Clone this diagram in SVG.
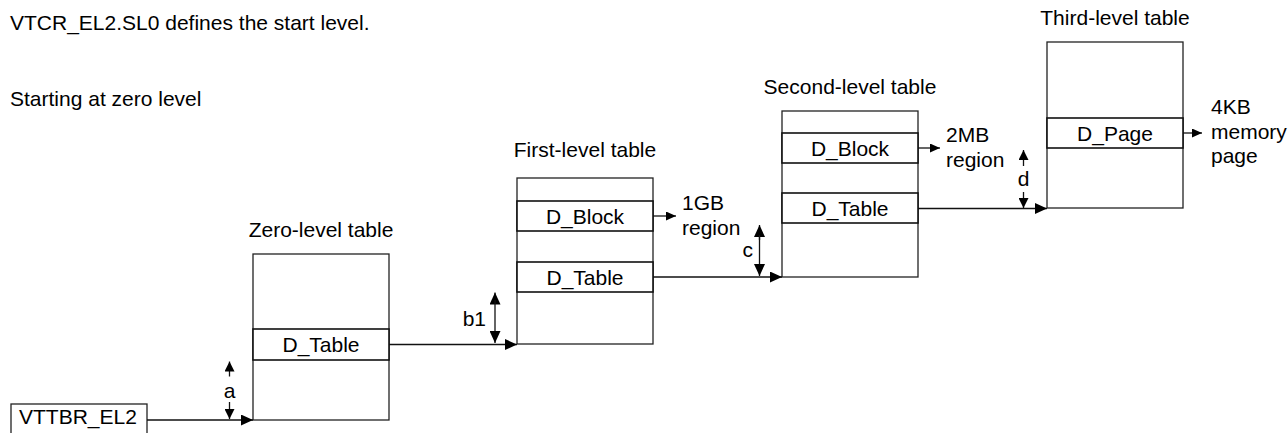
<svg xmlns="http://www.w3.org/2000/svg" width="1288" height="433" viewBox="0 0 1288 433">
<style>
text{font-family:"Liberation Sans",Arial,sans-serif;font-size:21px;fill:#000}
.m{text-anchor:middle}
.e{text-anchor:end}
.box{fill:#fff;stroke:#222;stroke-width:1.3}
.row{fill:#fff;stroke:#111;stroke-width:1.6}
.ln{fill:none;stroke:#111;stroke-width:1.3}
</style>
<defs>
<marker id="ah" viewBox="0 0 12 11" refX="12" refY="5.5" markerWidth="12" markerHeight="11" markerUnits="userSpaceOnUse" orient="auto"><path d="M0,0 L12,5.5 L0,11 z" fill="#000"/></marker>
<marker id="ahs" viewBox="0 0 10 9" refX="10" refY="4.5" markerWidth="10" markerHeight="9" markerUnits="userSpaceOnUse" orient="auto"><path d="M0,0 L10,4.5 L0,9 z" fill="#000"/></marker>
<marker id="ahd" viewBox="0 0 10 10" refX="10" refY="5" markerWidth="10" markerHeight="10" markerUnits="userSpaceOnUse" orient="auto"><path d="M0,0 L10,5 L0,10 z" fill="#000"/></marker>
</defs>
<text x="10" y="30">VTCR_EL2.SL0 defines the start level.</text>
<text x="10" y="106">Starting at zero level</text>
<g id="vttbr">
<rect class="box" x="11" y="404" width="136" height="34"/>
<text x="19" y="424">VTTBR_EL2</text>
</g>
<g id="zero-level">
<text class="m" x="321" y="237">Zero-level table</text>
<rect class="box" x="253" y="254" width="136" height="166"/>
<rect class="row" x="253" y="329" width="136" height="31"/>
<text class="m" x="321" y="352">D_Table</text>
</g>
<g id="first-level">
<text class="m" x="585" y="157">First-level table</text>
<rect class="box" x="517" y="178" width="136" height="166"/>
<rect class="row" x="517" y="201" width="136" height="30"/>
<rect class="row" x="517" y="262" width="136" height="30"/>
<text class="m" x="585" y="223.5">D_Block</text>
<text class="m" x="585" y="284.5">D_Table</text>
<text x="682" y="210">1GB</text>
<text x="682" y="235">region</text>
</g>
<g id="second-level">
<text class="m" x="850" y="94">Second-level table</text>
<rect class="box" x="782" y="111" width="136" height="166"/>
<rect class="row" x="782" y="133" width="136" height="30"/>
<rect class="row" x="782" y="193" width="136" height="30"/>
<text class="m" x="850" y="155.5">D_Block</text>
<text class="m" x="850" y="215.5">D_Table</text>
<text x="946" y="142">2MB</text>
<text x="946" y="167">region</text>
</g>
<g id="third-level">
<text class="m" x="1115" y="25">Third-level table</text>
<rect class="box" x="1047" y="42" width="136" height="166"/>
<rect class="row" x="1047" y="118" width="136" height="30"/>
<text class="m" x="1115" y="140.5">D_Page</text>
<text x="1211" y="114">4KB</text>
<text x="1211" y="139">memory</text>
<text x="1211" y="163">page</text>
</g>
<g id="connectors">
<line class="ln" x1="147" y1="420" x2="253" y2="420" marker-end="url(#ah)"/>
<line class="ln" x1="389" y1="344.5" x2="517" y2="344.5" marker-end="url(#ah)"/>
<line class="ln" x1="653" y1="277" x2="782" y2="277" marker-end="url(#ah)"/>
<line class="ln" x1="918" y1="208.5" x2="1047" y2="208.5" marker-end="url(#ah)"/>
<line class="ln" x1="653" y1="216" x2="676" y2="216" marker-end="url(#ahs)"/>
<line class="ln" x1="918" y1="148" x2="940" y2="148" marker-end="url(#ahs)"/>
<line class="ln" x1="1183" y1="133" x2="1202" y2="133" marker-end="url(#ahs)"/>
<line class="ln" x1="229.5" y1="376.5" x2="229.5" y2="361.5" marker-end="url(#ahd)"/>
<line class="ln" x1="229.5" y1="402" x2="229.5" y2="419" marker-end="url(#ahd)"/>
<text class="m" x="229.5" y="398">a</text>
<line class="ln" x1="495" y1="304" x2="495" y2="292.5" marker-end="url(#ah)"/>
<line class="ln" x1="495" y1="300" x2="495" y2="343" marker-end="url(#ah)"/>
<text class="e" x="486" y="326">b1</text>
<line class="ln" x1="759.5" y1="240" x2="759.5" y2="225" marker-end="url(#ah)"/>
<line class="ln" x1="759.5" y1="235" x2="759.5" y2="276" marker-end="url(#ah)"/>
<text class="e" x="753" y="257">c</text>
<line class="ln" x1="1023.5" y1="166" x2="1023.5" y2="150" marker-end="url(#ahd)"/>
<line class="ln" x1="1023.5" y1="192" x2="1023.5" y2="208" marker-end="url(#ahd)"/>
<text class="m" x="1023.5" y="186">d</text>
</g>
</svg>
